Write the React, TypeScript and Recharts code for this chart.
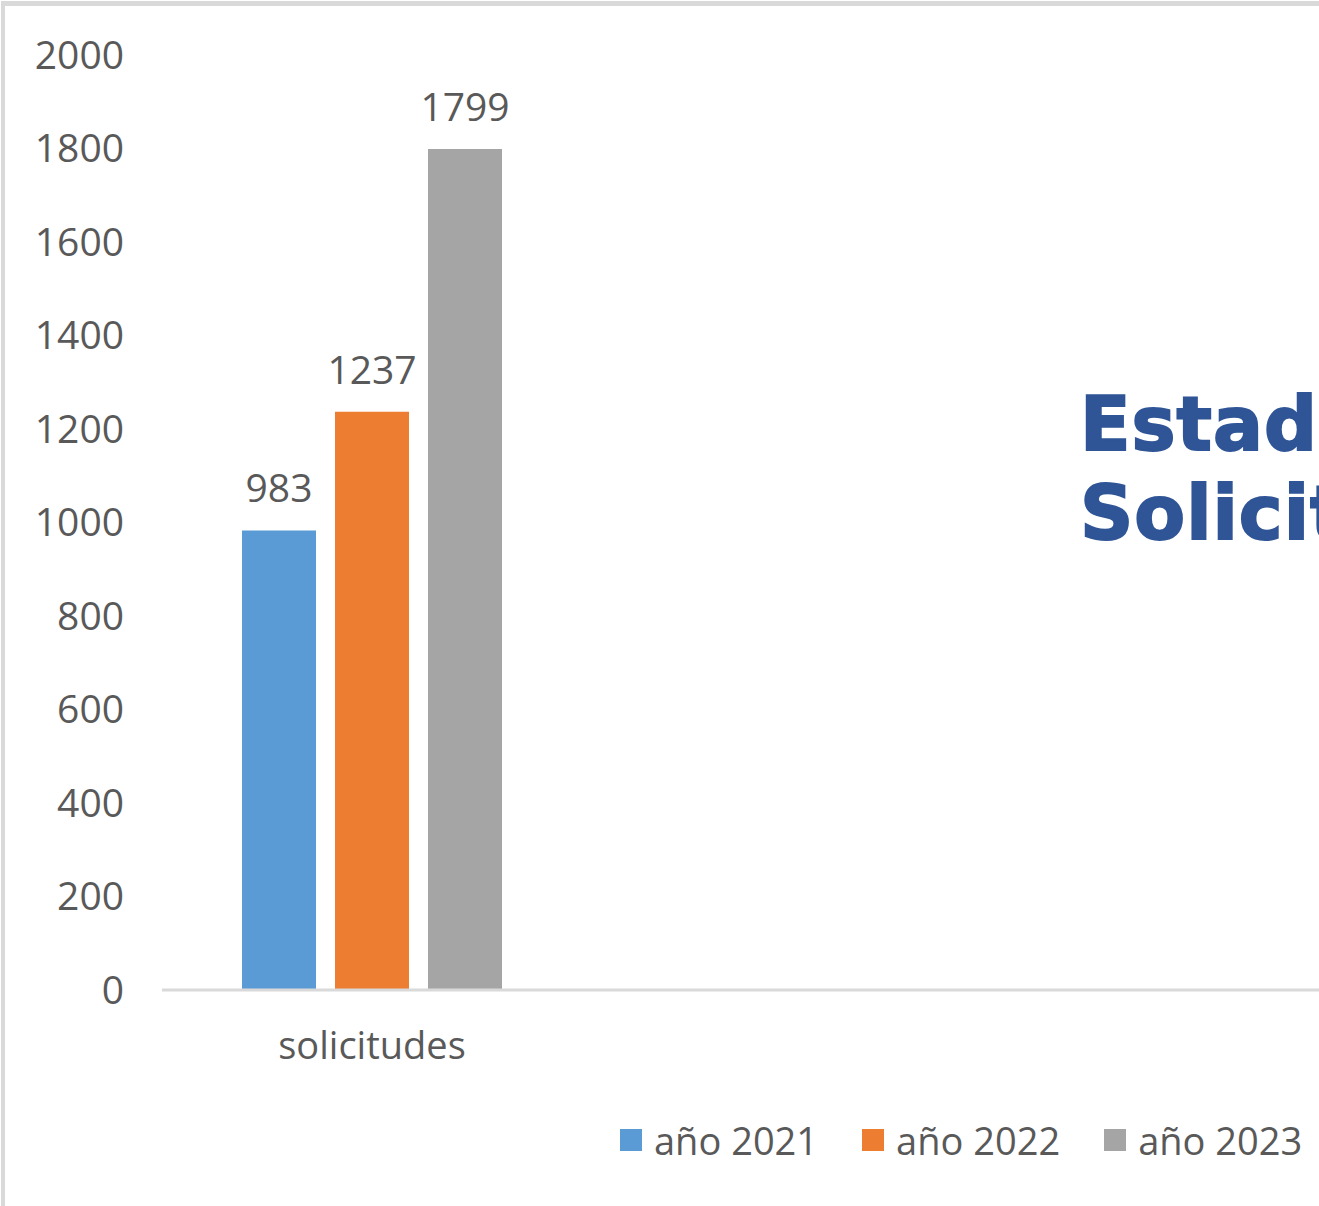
import { BarChart, Bar, XAxis, YAxis, Legend, LabelList } from "recharts"

const categories = ["solicitudes"]
const series2021 = [983]
const series2022 = [1237]
const series2023 = [1799]
const yTicks = [0, 200, 400, 600, 800, 1000, 1200, 1400, 1600, 1800, 2000]

const SERIES = [
  { key: "y2021", name: "año 2021", color: "#5B9BD5", values: series2021 },
  { key: "y2022", name: "año 2022", color: "#ED7D31", values: series2022 },
  { key: "y2023", name: "año 2023", color: "#A5A5A5", values: series2023 },
]

const chartData = categories.map((cat, i) => {
  const row: Record<string, string | number> = { cat }
  for (const s of SERIES) row[s.key] = s.values[i]
  return row
})

const FONT = "'Open Sans', 'Noto Sans', sans-serif"
const TEXT = "#595959"

function LegendContent() {
  return (
    <div style={{ display: "flex", alignItems: "center", fontFamily: FONT, fontSize: 38, color: TEXT }}>
      {SERIES.map((s, i) => (
        <div key={s.key} style={{ display: "flex", alignItems: "center", marginLeft: i === 0 ? 0 : 44 }}>
          <span style={{ display: "inline-block", width: 22, height: 22, background: s.color, marginRight: 12 }} />
          <span>{s.name}</span>
        </div>
      ))}
    </div>
  )
}

export default function App() {
  return (
    <div style={{ position: "fixed", left: 0, top: 0, width: 1319, height: 1206, overflow: "hidden", background: "#fff" }}>
      <div
        style={{
          position: "absolute",
          left: 1,
          top: 1,
          width: 1500,
          height: 1300,
          borderLeft: "4px solid #d9d9d9",
          borderTop: "5px solid #d9d9d9",
        }}
      />
      <div style={{ position: "absolute", left: 0, top: 0 }}>
        <BarChart
          width={1400}
          height={1206}
          data={chartData}
          margin={{ top: 55, right: 0, bottom: 136, left: 0 }}
          barSize={74}
          barGap={19}
        >
          <XAxis
            dataKey="cat"
            height={80}
            padding={{ left: 0, right: 818 }}
            axisLine={{ stroke: "#d9d9d9", strokeWidth: 3 }}
            tickLine={false}
            tickSize={0}
            tickMargin={42}
            tick={{ fill: TEXT, fontSize: 38, fontFamily: FONT }}
          />
          <YAxis
            width={162}
            domain={[0, 2000]}
            ticks={yTicks}
            axisLine={false}
            tickLine={false}
            tickSize={0}
            tickMargin={38}
            tick={{ fill: TEXT, fontSize: 39, fontFamily: FONT }}
          />
          <Legend
            layout="horizontal"
            verticalAlign="middle"
            align="center"
            content={<LegendContent />}
            wrapperStyle={{ left: 620, top: 1114, width: 720, height: 56 }}
          />
          {SERIES.map((s) => (
            <Bar key={s.key} dataKey={s.key} name={s.name} fill={s.color} isAnimationActive={false}>
              <LabelList
                dataKey={s.key}
                position="top"
                offset={28}
                fill={TEXT}
                fontSize={39}
                fontFamily={FONT}
              />
            </Bar>
          ))}
        </BarChart>
      </div>
      <div
        style={{
          position: "absolute",
          left: 1080,
          top: 380,
          fontFamily: "'DejaVu Sans', sans-serif",
          fontWeight: "bold",
          fontSize: 74,
          lineHeight: "89px",
          color: "#2F5597",
          WebkitTextStroke: "2px #2F5597",
          letterSpacing: 1,
          whiteSpace: "nowrap",
        }}
      >
        <div>Estadísticas</div>
        <div>Solicitudes</div>
      </div>
    </div>
  )
}
